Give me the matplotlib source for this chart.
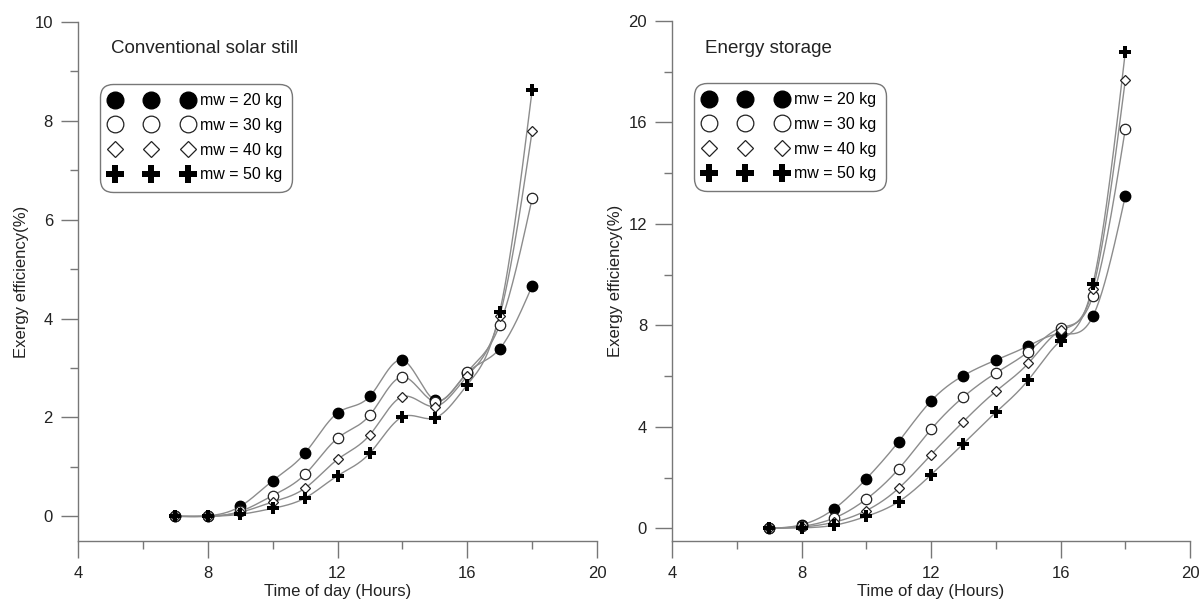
import numpy as np
import matplotlib.pyplot as plt
from matplotlib.lines import Line2D
from matplotlib.ticker import MultipleLocator

plt.rcParams['font.family'] = ['Liberation Sans', 'DejaVu Sans']

hours = [7, 8, 9, 10, 11, 12, 13, 14, 15, 16, 17, 18]
labels = ['mw = 20 kg', 'mw = 30 kg', 'mw = 40 kg', 'mw = 50 kg']

# Conventional solar still
conv_20 = [0.0, 0.01, 0.2, 0.72, 1.28, 2.09, 2.43, 3.16, 2.35, 2.9, 3.39, 4.66]
conv_30 = [0.0, 0.0, 0.1, 0.42, 0.85, 1.58, 2.05, 2.82, 2.32, 2.92, 3.87, 6.43]
conv_40 = [0.0, 0.0, 0.08, 0.29, 0.57, 1.15, 1.65, 2.42, 2.22, 2.84, 4.05, 7.79]
conv_50 = [0.0, 0.0, 0.04, 0.16, 0.37, 0.82, 1.28, 2.01, 1.99, 2.66, 4.13, 8.62]

# Energy storage
stor_20 = [0.0, 0.14, 0.76, 1.95, 3.42, 5.02, 6.02, 6.63, 7.19, 7.67, 8.36, 13.1]
stor_30 = [0.0, 0.08, 0.4, 1.15, 2.34, 3.9, 5.18, 6.12, 6.96, 7.9, 9.16, 15.74]
stor_40 = [0.0, 0.05, 0.24, 0.7, 1.58, 2.9, 4.21, 5.4, 6.5, 7.8, 9.44, 17.67]
stor_50 = [0.0, 0.02, 0.12, 0.47, 1.05, 2.11, 3.34, 4.57, 5.84, 7.39, 9.62, 18.77]

styles = [
    dict(marker='o', markersize=7.5, markerfacecolor='black', markeredgecolor='black'),
    dict(marker='o', markersize=7.5, markerfacecolor='white', markeredgecolor='#222222', markeredgewidth=0.9),
    dict(marker='D', markersize=5, markerfacecolor='white', markeredgecolor='#222222', markeredgewidth=0.9),
    dict(marker='P', markersize=8.5, markerfacecolor='black', markeredgecolor='black', markeredgewidth=0),
]


def smooth(x, y, n=400):
    # natural cubic spline drawn through the data points
    x = np.asarray(x, float)
    y = np.asarray(y, float)
    h = np.diff(x)
    k = len(x)
    A = np.zeros((k, k))
    b = np.zeros(k)
    A[0, 0] = A[-1, -1] = 1
    for i in range(1, k - 1):
        A[i, i - 1] = h[i - 1]
        A[i, i] = 2 * (h[i - 1] + h[i])
        A[i, i + 1] = h[i]
        b[i] = 6 * ((y[i + 1] - y[i]) / h[i] - (y[i] - y[i - 1]) / h[i - 1])
    M = np.linalg.solve(A, b)
    xs = np.linspace(x[0], x[-1], n)
    idx = np.clip(np.searchsorted(x, xs) - 1, 0, k - 2)
    x0, x1 = x[idx], x[idx + 1]
    hh = x1 - x0
    t0, t1 = x1 - xs, xs - x0
    ys = (M[idx] * t0 ** 3 + M[idx + 1] * t1 ** 3) / (6 * hh) \
        + (y[idx] / hh - M[idx] * hh / 6) * t0 + (y[idx + 1] / hh - M[idx + 1] * hh / 6) * t1
    return xs, ys


fig = plt.figure(figsize=(12, 6.03), dpi=100)
ax1 = fig.add_axes([0.065, 0.1028, 0.4325, 0.8607])
ax2 = fig.add_axes([0.56, 0.1028, 0.4317, 0.8624])

panels = [
    (ax1, [conv_20, conv_30, conv_40, conv_50], 'Conventional solar still', 10, 2, 1),
    (ax2, [stor_20, stor_30, stor_40, stor_50], 'Energy storage', 20, 4, 2),
]

for ax, series, title, ymax, ymaj, ymin in panels:
    for vals, st in zip(series, styles):
        xs, ys = smooth(hours, vals)
        ax.plot(xs, ys, color='#8c8c8c', lw=1.0, zorder=2)
        ax.plot(hours, vals, ls='none', zorder=3, **st)
    ax.set_xlim(4, 20)
    ax.set_ylim(-0.5, ymax)
    ax.xaxis.set_major_locator(MultipleLocator(4))
    ax.xaxis.set_minor_locator(MultipleLocator(2))
    ax.yaxis.set_major_locator(MultipleLocator(ymaj))
    ax.yaxis.set_minor_locator(MultipleLocator(ymin))
    for s in ['top', 'right']:
        ax.spines[s].set_visible(False)
    for s in ['left', 'bottom']:
        ax.spines[s].set_color('#777777')
        ax.spines[s].set_linewidth(1.0)
    ax.tick_params(which='both', direction='out', color='#777777', width=1.0,
                   labelsize=12, labelcolor='#222222', pad=6)
    ax.tick_params(which='major', length=12)
    ax.tick_params(which='minor', length=6)
    ax.set_xlabel('Time of day (Hours)', fontsize=12, labelpad=2, color='#222222')
    ax.set_ylabel('Exergy efficiency(%)', fontsize=12, labelpad=4, color='#222222')
    ax.text(0.064, 0.948, title, transform=ax.transAxes, fontsize=13.5, va='center',
            color='#222222')

    handles = [Line2D([], [], ls='none', **st) for st in styles]
    leg = ax.legend(handles, labels, loc='upper left', bbox_to_anchor=(0.043, 0.881),
                    numpoints=3, handlelength=5.2, handletextpad=0.45, markerscale=1.6,
                    fontsize=11.5, frameon=True, fancybox=True, edgecolor='#777777',
                    borderpad=0.6, labelspacing=0.6, borderaxespad=0)
    leg.get_frame().set_linewidth(1.0)
    leg.get_frame().set_alpha(1)
    leg.get_frame().set_boxstyle('round', pad=0, rounding_size=0.8)

fig.savefig('out.png', dpi=100)
